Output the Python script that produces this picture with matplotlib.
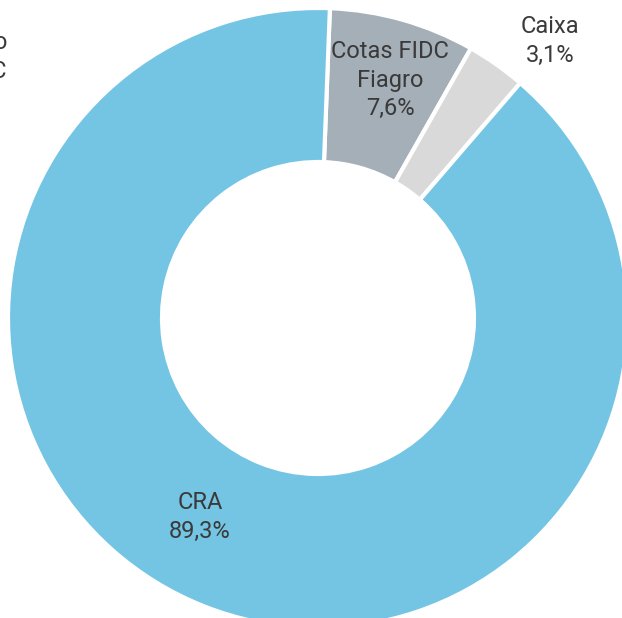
import numpy as np
import matplotlib.pyplot as plt

plt.rcParams['font.family'] = ['Roboto', 'DejaVu Sans']

# dados da carteira
labels = ['Cotas FIDC\nFiagro', 'Caixa', 'CRA']
values = [7.6, 3.1, 89.3]
colors = ['#A4AFB8', '#D9D9D9', '#74C5E3']
label_pos = [(390, 80), (550, 41), (200, 517)]  # em pixels (y de cima)

W, H = 622, 618
fig = plt.figure(figsize=(W / 100, H / 100), dpi=100)
ax = fig.add_axes([0, 0, 1, 1])

cx, cy, r = 318, 318, 310
wedges, _ = ax.pie(values, colors=colors, startangle=87.8, counterclock=False,
                   radius=r, center=(cx, H - cy),
                   wedgeprops=dict(width=r - 156, edgecolor='white', linewidth=3))

for lab, v, (x, y) in zip(labels, values, label_pos):
    txt = f"{lab}\n{v:.1f}%".replace('.', ',')
    ax.text(x, H - y, txt, ha='center', va='center', fontsize=17,
            color='#3A3A3A', linespacing=1.32)

# rotulo cortado na borda esquerda
ax.text(7, H - 57, 'Fiagro\nFIDC', ha='right', va='center', fontsize=17,
        color='#3A3A3A', linespacing=1.32)

ax.set_xlim(0, W)
ax.set_ylim(0, H)
ax.set_aspect('equal')
ax.axis('off')

plt.savefig('out.png', dpi=100)
